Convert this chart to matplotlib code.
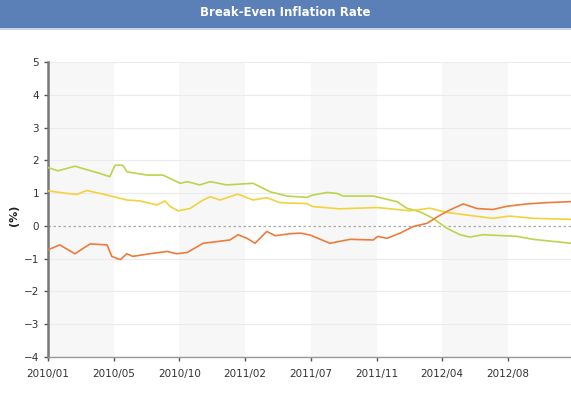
import matplotlib
matplotlib.use('Agg')
import matplotlib.pyplot as plt
from matplotlib.patches import Rectangle

# x positions are in "tick periods" (the source chart uses an evenly spaced category axis)
tick_labels = ['2010/01', '2010/05', '2010/10', '2011/02', '2011/07', '2011/11', '2012/04', '2012/08']

green_x = [0, 0.15, 0.41, 0.79, 0.94, 1.02, 1.14, 1.20, 1.51, 1.75, 2.01, 2.12, 2.31, 2.47,
           2.72, 3.12, 3.38, 3.64, 3.94, 4.03, 4.25, 4.40, 4.49, 4.95, 5.16, 5.31, 5.46, 5.66,
           5.86, 6.07, 6.27, 6.42, 6.62, 7.14, 7.38, 7.96]
green_y = [1.78, 1.68, 1.82, 1.60, 1.50, 1.85, 1.85, 1.65, 1.55, 1.55, 1.30, 1.35, 1.25, 1.35,
           1.25, 1.30, 1.04, 0.91, 0.87, 0.94, 1.02, 0.99, 0.91, 0.91, 0.81, 0.74, 0.54, 0.43,
           0.23, -0.07, -0.27, -0.34, -0.27, -0.32, -0.41, -0.53]

yellow_x = [0, 0.29, 0.44, 0.59, 0.90, 1.20, 1.40, 1.66, 1.78, 1.86, 1.98, 2.16, 2.36, 2.47,
            2.62, 2.89, 3.12, 3.33, 3.53, 3.94, 4.03, 4.44, 5.01, 5.51, 5.81, 6.07, 6.38, 6.77,
            7.03, 7.38, 7.96]
yellow_y = [1.07, 0.99, 0.96, 1.08, 0.94, 0.79, 0.76, 0.64, 0.76, 0.59, 0.46, 0.53, 0.79, 0.89,
            0.79, 0.97, 0.79, 0.86, 0.71, 0.68, 0.59, 0.52, 0.56, 0.46, 0.54, 0.41, 0.33, 0.23,
            0.30, 0.23, 0.20]

orange_x = [0, 0.18, 0.41, 0.64, 0.90, 0.97, 1.10, 1.20, 1.29, 1.55, 1.81, 1.96, 2.12, 2.36,
            2.57, 2.77, 2.89, 3.03, 3.15, 3.33, 3.46, 3.68, 3.84, 3.99, 4.29, 4.60, 4.95, 5.02,
            5.16, 5.36, 5.56, 5.77, 5.97, 6.12, 6.32, 6.53, 6.77, 6.99, 7.29, 7.60, 7.96]
orange_y = [-0.73, -0.58, -0.85, -0.55, -0.58, -0.93, -1.03, -0.85, -0.93, -0.85, -0.78, -0.85,
            -0.81, -0.53, -0.48, -0.43, -0.27, -0.38, -0.53, -0.17, -0.30, -0.24, -0.22, -0.28,
            -0.53, -0.41, -0.43, -0.32, -0.38, -0.22, -0.02, 0.08, 0.33, 0.49, 0.67, 0.53, 0.50,
            0.60, 0.67, 0.71, 0.74]

fig = plt.figure(figsize=(5.71, 3.98), dpi=100)

# title bar
fig.patches.append(Rectangle((0, 1 - 28 / 398), 1, 28 / 398, transform=fig.transFigure,
                             facecolor='#5b7fb7', edgecolor='none', zorder=0))
fig.patches.append(Rectangle((0, 1 - 30 / 398), 1, 2 / 398, transform=fig.transFigure,
                             facecolor='#c9d3e3', edgecolor='none', zorder=0))
fig.text(0.5, 1 - 13 / 398, 'Break-Even Inflation Rate', color='white', fontsize=8.5,
         fontweight='bold', ha='center', va='center')

ax = fig.add_axes([48 / 571, 1 - 357 / 398, 1 - 48 / 571, 295 / 398])

# alternating background bands
for i in range(0, 8, 2):
    ax.axvspan(i, i + 1, color='#f7f7f7', zorder=0, lw=0)

for v in [-4, -3, -2, -1, 1, 2, 3, 4, 5]:
    ax.axhline(v, color='#ebebeb', lw=0.8, zorder=1)
ax.axhline(0, color='#aaaaaa', lw=0.9, ls=(0, (2, 2)), zorder=1)

ax.plot(green_x, green_y, color='#bad54c', lw=1.2, zorder=3)
ax.plot(yellow_x, yellow_y, color='#f3d23c', lw=1.2, zorder=3)
ax.plot(orange_x, orange_y, color='#ef7b3b', lw=1.2, zorder=4)

ax.set_xlim(0, 7.96)
ax.set_ylim(-4, 5)
ax.set_yticks(range(-4, 6))
ax.set_xticks(range(len(tick_labels)))
ax.set_xticklabels(tick_labels)
ax.tick_params(axis='both', labelsize=7.5, colors='#555555', labelcolor='#333333',
               length=3, width=1)
ax.tick_params(axis='x', pad=6)

for s in ['top', 'right']:
    ax.spines[s].set_visible(False)
ax.spines['left'].set_color('#777777')
ax.spines['left'].set_linewidth(1.8)
ax.spines['bottom'].set_color('#999999')
ax.spines['bottom'].set_linewidth(1)

fig.text(14 / 571, 1 - 215 / 398, '(%)', rotation=90, fontsize=8, fontweight='bold',
         ha='center', va='center', color='#222222')

fig.savefig('out.png', dpi=100)
